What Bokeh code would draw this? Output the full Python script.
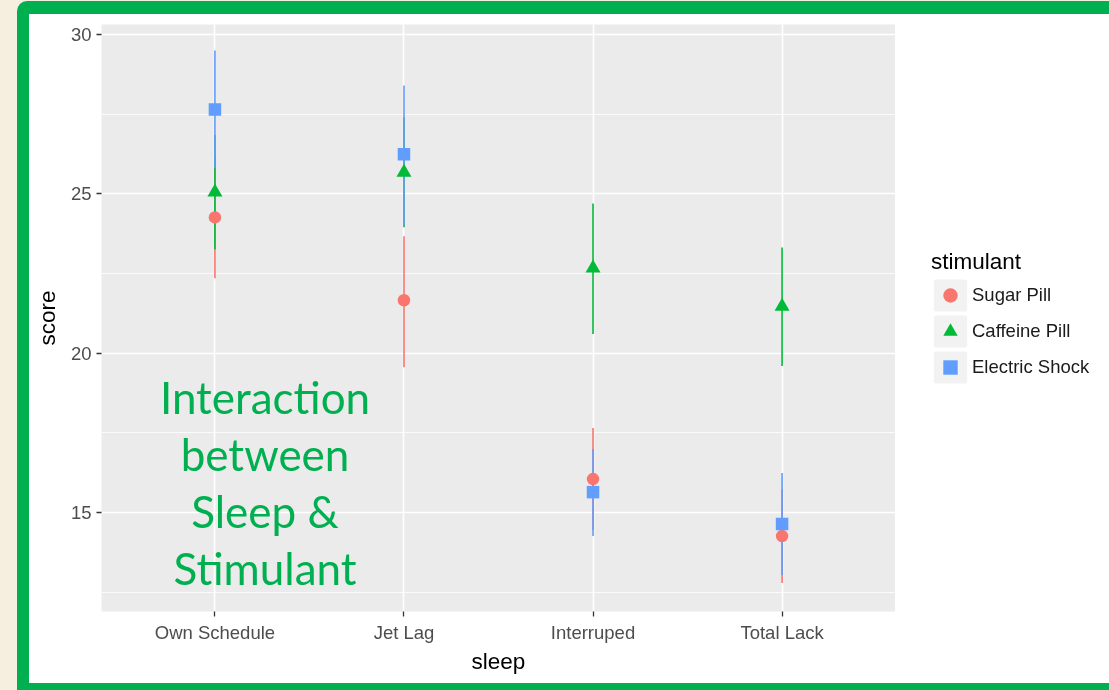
from bokeh.plotting import figure
from bokeh.layouts import row
from bokeh.models import (FactorRange, Range1d, FixedTicker, Label,
                          Legend, LegendItem, GlobalInlineStyleSheet)
from bokeh.embed import file_html
from bokeh.resources import INLINE

# ---------------- data ----------------
sleep = ["Own Schedule", "Jet Lag", "Interruped", "Total Lack"]
stimulant = ["Sugar Pill", "Caffeine Pill", "Electric Shock"]

sugar_score = [24.26, 21.66, 16.05, 14.26]
sugar_low = [22.35, 19.56, 14.45, 12.79]
sugar_high = [26.15, 23.67, 17.65, 15.73]

caffeine_score = [25.05, 25.67, 22.67, 21.47]
caffeine_low = [23.26, 23.95, 20.60, 19.60]
caffeine_high = [26.85, 27.40, 24.70, 23.32]

electric_score = [27.65, 26.24, 15.64, 14.64]
electric_low = [25.80, 24.02, 14.26, 13.04]
electric_high = [29.50, 28.40, 16.99, 16.24]

y_ticks = [15, 20, 25, 30]
y_minor = [12.5, 17.5, 22.5, 27.5]

note_lines = ["Interaction", "between", "Sleep &", "Stimulant"]

# ---------------- style ----------------
W, H = 1109, 690
PLOT_W = 895
FONT = "Liberation Sans"
NOTE_FONT = "Lato"
BEIGE = "#F6EFDF"
FRAME_GREEN = "#00B050"
colors = ["#F8766D", "#00BA38", "#619CFF"]
markers = ["circle", "triangle", "square"]
marker_sizes = [12.5, 15, 12.5]

y_range = Range1d(11.894, 30.314)

p = figure(width=PLOT_W, height=H,
           x_range=FactorRange(*sleep, range_padding=0.1, range_padding_units="absolute"),
           y_range=y_range,
           output_backend="svg", toolbar_location=None,
           min_border_left=101, min_border_right=0, min_border_top=24, min_border_bottom=79,
           background_fill_color="#EBEBEB", border_fill_alpha=0, outline_line_color=None)

# axes
p.xaxis.axis_label = "sleep"
p.yaxis.axis_label = "score"
p.yaxis.ticker = FixedTicker(ticks=y_ticks, minor_ticks=y_minor)
for ax in (p.xaxis[0], p.yaxis[0]):
    ax.axis_line_color = None
    ax.major_tick_line_color = "#333333"
    ax.major_tick_line_width = 1.3
    ax.major_tick_in = 0
    ax.major_tick_out = 5
    ax.minor_tick_line_color = None
    ax.major_label_text_font = FONT
    ax.major_label_text_font_size = "18.5px"
    ax.major_label_text_color = "#4D4D4D"
    ax.major_label_standoff = 5
    ax.axis_label_text_font = FONT
    ax.axis_label_text_font_size = "22.5px"
    ax.axis_label_text_font_style = "normal"
    ax.axis_label_text_color = "#000000"
p.yaxis.axis_label_standoff = 8
p.xaxis.axis_label_standoff = 3

p.xgrid.grid_line_color = "white"
p.xgrid.grid_line_width = 1.6
p.ygrid.grid_line_color = "white"
p.ygrid.grid_line_width = 1.6
p.ygrid.minor_grid_line_color = "white"
p.ygrid.minor_grid_line_width = 0.8

series = [(sugar_score, sugar_low, sugar_high),
          (caffeine_score, caffeine_low, caffeine_high),
          (electric_score, electric_low, electric_high)]

for (score, lo, hi), c in zip(series, colors):
    p.segment(x0=sleep, y0=lo, x1=sleep, y1=hi, line_color=c, line_width=1.6)

for (score, lo, hi), c, m, s in zip(series, colors, markers, marker_sizes):
    p.scatter(x=sleep, y=score, marker=m, size=s, fill_color=c, line_color=None)

# slide annotation
note_x = 0.765
note_baselines = [18.64, 16.85, 15.06, 13.27]
for line, yb in zip(note_lines, note_baselines):
    p.add_layout(Label(x=note_x, y=yb, text=line, text_align="center",
                       text_baseline="alphabetic", text_font=NOTE_FONT,
                       text_font_size="44px", text_color=FRAME_GREEN))

# ---------------- legend panel (right of the plot) ----------------
lg = figure(width=W - PLOT_W, height=H, x_range=FactorRange(*sleep), y_range=y_range,
            output_backend="svg", toolbar_location=None,
            x_axis_location=None, y_axis_location=None,
            min_border_left=0, min_border_right=0, min_border_top=0, min_border_bottom=0,
            background_fill_alpha=0, border_fill_alpha=0, outline_line_color=None)
lg.grid.visible = False

# zero-size glyphs on the same data: they only show up as legend keys
key_bg = lg.rect(x=sleep, y=sugar_score, width=0, height=0,
                 fill_color="#F2F2F2", line_color="#F2F2F2", line_width=3)
keys = [lg.scatter(x=sleep, y=score, marker=m, size=0, fill_color=c, line_color=None)
        for (score, lo, hi), c, m in zip(series, colors, markers)]

legend = Legend(items=[LegendItem(label=s, renderers=[key_bg, k])
                       for s, k in zip(stimulant, keys)],
                location=(36, 226), title="stimulant",
                glyph_width=38, glyph_height=36, spacing=0, padding=0, margin=0,
                label_standoff=3, label_text_font=FONT, label_text_font_size="18.5px",
                label_text_color="#1A1A1A",
                title_text_font=FONT, title_text_font_size="22.5px",
                title_text_font_style="normal", title_text_color="#000000",
                title_standoff=2, border_line_color=None, background_fill_alpha=0)
lg.add_layout(legend)

layout = row(p, lg, spacing=0)

# slide decoration (beige page, green frame, white card) behind the transparent canvases
layout.stylesheets = [GlobalInlineStyleSheet(css=f"""
html, body {{ margin: 0; padding: 0; overflow: hidden; }}
html {{ background-color: {BEIGE}; }}
body {{ background: transparent; }}
body::before {{ content: ""; position: fixed; left: 17px; top: 1px; right: 0; bottom: 0;
               background: {FRAME_GREEN}; border-top-left-radius: 10px; z-index: -2; }}
body::after {{ content: ""; position: fixed; left: 29px; top: 14px; right: 0; bottom: 7px;
              background: #FFFFFF; z-index: -1; }}
""")]

open("out.html", "w").write(file_html(layout, INLINE))
